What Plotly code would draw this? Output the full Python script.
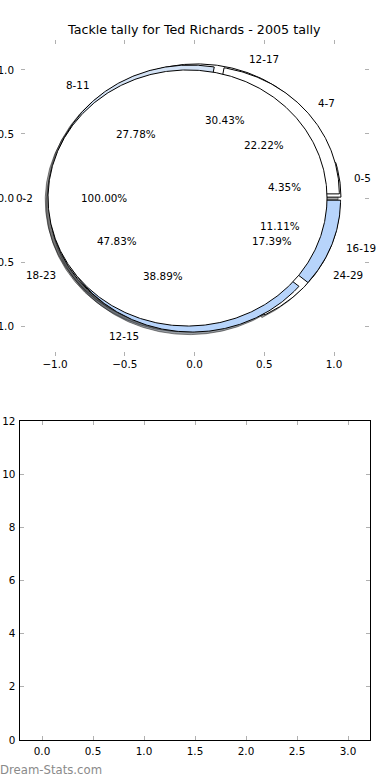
import numpy as np
import plotly.graph_objects as go

# ---------------- data ----------------
chart_title = "Tackle tally for Ted Richards - 2005 tally"

pie_a_labels = ["0-5", "12-17", "18-23", "24-29"]
pie_a_values = [1, 7, 11, 4]

pie_b_labels = ["4-7", "8-11", "12-15", "16-19"]
pie_b_values = [4, 5, 7, 2]

pie_c_labels = ["0-2"]
pie_c_values = [1]

pie_ticks = [-1.0, -0.5, 0.0, 0.5, 1.0]
lower_xticks = [0.0, 0.5, 1.0, 1.5, 2.0, 2.5, 3.0]
lower_yticks = [0, 2, 4, 6, 8, 10, 12]

watermark = "Dream-Stats.com"

# ---------------- styles ----------------
pie_a_colors = ["#ffffff", "#ffffff", "#ffffff", "#ffffff"]
pie_b_colors = ["#ffffff", "#d3e2f5", "#b7d4fb", "#b7d4fb"]
pie_c_colors = ["#ffffff"]
EXPLODE = 0.05
FONT = "DejaVu Sans"
FS = 10.4
W, H = 390, 780


def hex_rgb(h):
    h = h.lstrip("#")
    return tuple(int(h[i:i + 2], 16) for i in (0, 2, 4))


def wedge_geometry(values):
    v = np.asarray(values, dtype=float)
    frac = v / v.sum()
    t2 = 360.0 * np.cumsum(frac)
    t1 = t2 - 360.0 * frac
    out = []
    for a, b, f in zip(t1, t2, frac):
        mid = np.deg2rad((a + b) / 2.0)
        cx, cy = EXPLODE * np.cos(mid), EXPLODE * np.sin(mid)
        n = max(int(abs(b - a) * 2), 6)
        th = np.deg2rad(np.linspace(a, b, n))
        ax_ = cx + np.cos(th)
        ay_ = cy + np.sin(th)
        if f >= 0.999999:
            xs, ys = ax_, ay_
        else:
            xs = np.concatenate([[cx], ax_, [cx]])
            ys = np.concatenate([[cy], ay_, [cy]])
        out.append(dict(xs=xs, ys=ys, cx=cx, cy=cy, mid=mid, frac=f))
    return out


pies = [
    (pie_a_labels, pie_a_values, pie_a_colors),
    (pie_b_labels, pie_b_values, pie_b_colors),
    (pie_c_labels, pie_c_values, pie_c_colors),
]

fig = go.Figure()
annotations = []

geoms = [wedge_geometry(vals) for _, vals, _ in pies]

# shadows (drawn under every wedge)
for (labels, vals, cols), gs in zip(pies, geoms):
    for g, col in zip(gs, cols):
        r, gg, b = hex_rgb(col)
        fig.add_trace(go.Scatter(
            x=g["xs"] - 0.02, y=g["ys"] - 0.02, mode="lines", fill="toself",
            fillcolor=f"rgba({int(r*0.3)},{int(gg*0.3)},{int(b*0.3)},0.5)",
            line=dict(color="rgba(0,0,0,0.45)", width=1),
            hoverinfo="skip", showlegend=False, xaxis="x", yaxis="y"))

# wedges
for (labels, vals, cols), gs in zip(pies, geoms):
    for lab, g, col in zip(labels, gs, cols):
        fig.add_trace(go.Scatter(
            x=g["xs"], y=g["ys"], mode="lines", fill="toself",
            fillcolor=col, line=dict(color="black", width=1),
            name=lab, hoverinfo="name", showlegend=False, xaxis="x", yaxis="y"))
        lx = g["cx"] + 1.1 * np.cos(g["mid"])
        ly = g["cy"] + 1.1 * np.sin(g["mid"])
        annotations.append(dict(
            x=lx, y=ly, xref="x", yref="y", text=lab, showarrow=False,
            xanchor="left" if lx > 0 else "right", yanchor="middle", borderpad=0,
            font=dict(family=FONT, size=FS, color="black")))
        px = g["cx"] + 0.6 * np.cos(g["mid"])
        py = g["cy"] + 0.6 * np.sin(g["mid"])
        annotations.append(dict(
            x=px, y=py, xref="x", yref="y", text=f"{100*g['frac']:.2f}%",
            showarrow=False, xanchor="center", yanchor="middle",
            font=dict(family=FONT, size=FS, color="black")))

# empty lower axes
fig.add_trace(go.Scatter(x=[], y=[], xaxis="x2", yaxis="y2", showlegend=False))

annotations.append(dict(
    x=194 / W, y=1 - 30 / H, xref="paper", yref="paper", text=chart_title,
    showarrow=False, xanchor="center", yanchor="middle",
    font=dict(family=FONT, size=12.7, color="black")))
annotations.append(dict(
    x=-2 / W, y=1 - 770 / H, xref="paper", yref="paper", text=watermark,
    showarrow=False, xanchor="left", yanchor="middle",
    font=dict(family=FONT, size=11.7, color="#8a8a8a")))

tick_common = dict(ticks="inside", ticklen=4, tickwidth=1, tickcolor="#b0b0b0",
                   showgrid=False, zeroline=False, automargin=False,
                   tickfont=dict(family=FONT, size=FS, color="black"))

fig.update_layout(
    width=W, height=H, autosize=False, margin=dict(l=0, r=0, t=0, b=0, pad=0),
    paper_bgcolor="white", plot_bgcolor="white",
    showlegend=False,
    annotations=annotations,
    xaxis=dict(domain=[21 / W, 369 / W], range=[-1.2437, 1.2509], anchor="y",
               tickvals=pie_ticks, tickformat=".1f", showline=False, mirror="ticks",
               ticklabelstandoff=1, **tick_common),
    yaxis=dict(domain=[1 - 356 / H, 1 - 40 / H], range=[-1.234, 1.234], anchor="x",
               tickvals=pie_ticks, tickformat=".1f", showline=False, mirror="ticks",
               ticklabelstandoff=6, **tick_common),
    xaxis2=dict(domain=[19.5 / W, 370 / W], range=[-0.2206, 3.2157], anchor="y2",
                tickvals=lower_xticks, tickformat=".1f", showline=True, linecolor="black",
                linewidth=1, mirror="ticks", ticklabelstandoff=2, **tick_common),
    yaxis2=dict(domain=[1 - 740 / H, 1 - 421 / H], range=[0, 12], anchor="x2",
                tickvals=lower_yticks, tickformat="d", showline=True, linecolor="black",
                linewidth=1, mirror="ticks", ticklabelstandoff=1, **tick_common),
)

fig.write_html("out.html", config={"displayModeBar": False})
